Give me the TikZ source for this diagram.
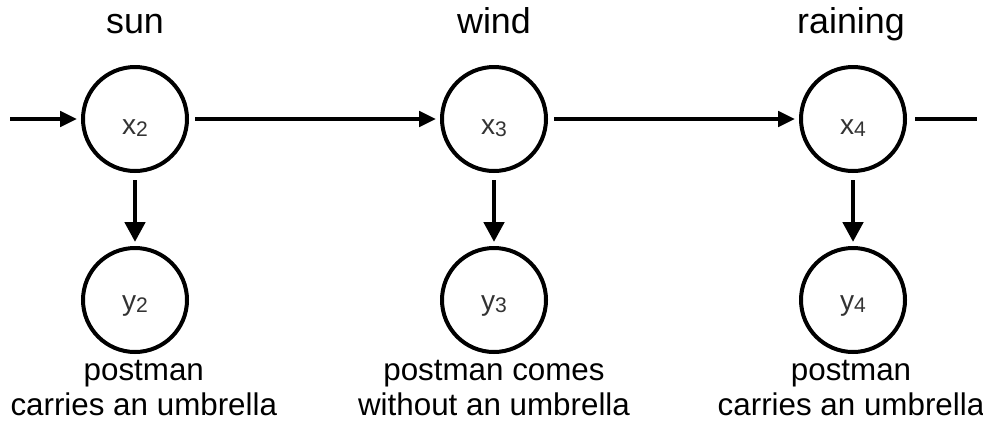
\documentclass[tikz,border=0pt]{standalone}
\usepackage{fontspec}
\setmainfont{Liberation Sans}
\usetikzlibrary{positioning}
\usetikzlibrary{arrows.meta}

% small index set a little below the letter
\newcommand{\lowidx}[1]{\raisebox{-0.1em}{\fontsize{15pt}{16pt}\selectfont #1}}

\begin{document}
\begin{tikzpicture}[
    hidden/.style={circle, draw=black, line width=0.1cm, minimum size=2.6cm, inner sep=0pt, text=black!80, font=\fontsize{20pt}{22pt}\selectfont, text height=0.8cm, text depth=0.05cm},
    observed/.style={hidden, text height=0.55cm},
    weather/.style={inner sep=0pt, font=\fontsize{25.5pt}{30pt}\selectfont},
    sighting/.style={inner sep=0pt, align=center, font=\fontsize{22.3pt}{24.8pt}\selectfont},
    trans/.style={line width=0.1cm, -{Triangle[length=0.42cm, width=0.38cm]}},
    emits/.style={line width=0.12cm, -{Triangle[length=0.5cm, width=0.5cm]}}
]
    \useasboundingbox (0,0) rectangle (24.575,10.55);

    % hidden states
    \node [hidden] (x2) at (3.375, 7.575) {x\lowidx{2}};
    \node [hidden, right=6.275cm of x2] (x3) {x\lowidx{3}};
    \node [hidden, right=6.275cm of x3] (x4) {x\lowidx{4}};

    % observations
    \node [observed, below=1.825cm of x2] (y2) {y\lowidx{2}};
    \node [observed, below=1.825cm of x3] (y3) {y\lowidx{3}};
    \node [observed, below=1.825cm of x4] (y4) {y\lowidx{4}};

    \node [weather, above=0.8cm of x2, anchor=base] (sun) {sun};
    \node [weather, above=0.8cm of x3, anchor=base] (wind) {wind};
    \node [weather, above=0.8cm of x4, anchor=base, xshift=-0.05cm] (rain) {raining};

    \node [sighting, below=0.15cm of y2, xshift=0.22cm] (seen2) {postman\\carries an umbrella};
    \node [sighting, below=0.15cm of y3] (seen3) {postman comes\\without an umbrella};
    \node [sighting, below=0.15cm of y4, xshift=-0.05cm] (seen4) {postman\\carries an umbrella};

    \coordinate [left=1.775cm of x2] (start);
    \coordinate [right=1.75cm of x4] (end);

    \draw [trans, shorten >=0.1cm] (start) -- (x2);
    \draw [trans, shorten <=0.15cm, shorten >=0.1cm] (x2) -- (x3);
    \draw [trans, shorten <=0.15cm, shorten >=0.1cm] (x3) -- (x4);
    \draw [line width=0.1cm, shorten <=0.2cm] (x4) -- (end);

    \draw [emits, shorten <=0.175cm, shorten >=0.1cm] (x2) -- (y2);
    \draw [emits, shorten <=0.175cm, shorten >=0.1cm] (x3) -- (y3);
    \draw [emits, shorten <=0.175cm, shorten >=0.1cm] (x4) -- (y4);
\end{tikzpicture}
\end{document}
